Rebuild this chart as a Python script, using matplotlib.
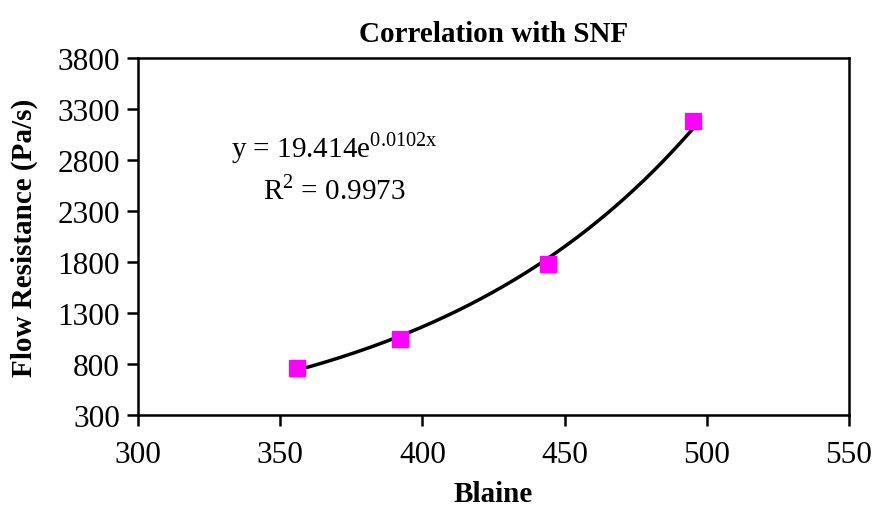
import numpy as np
import matplotlib
matplotlib.use('Agg')
import matplotlib.pyplot as plt

plt.rcParams['font.family'] = ['Liberation Serif', 'DejaVu Serif']
plt.rcParams['mathtext.fontset'] = 'custom'
plt.rcParams['mathtext.rm'] = 'Liberation Serif'

# data
blaine = np.array([356, 392, 444, 495])
flow_res = np.array([760, 1050, 1780, 3180])

xticks = [300, 350, 400, 450, 500, 550]
yticks = [300, 800, 1300, 1800, 2300, 2800, 3300, 3800]

fig = plt.figure(figsize=(8.72, 5.10), dpi=100)
ax = fig.add_axes([0.1583, 0.1843, 0.8153, 0.7000])

xx = np.linspace(blaine.min(), blaine.max(), 200)
# exponential fit through the points (the chart's trendline)
b_fit, ln_a = np.polyfit(blaine, np.log(flow_res), 1)
ax.plot(xx, np.exp(ln_a) * np.exp(b_fit * xx), color='black', lw=2.5, zorder=2)
ax.plot(blaine, flow_res, 's', color='#FF00FF', markersize=11.5, zorder=3)

ax.set_xlim(300, 550)
ax.set_ylim(300, 3800)
ax.set_xticks(xticks)
ax.set_yticks(yticks)
ax.tick_params(axis='both', direction='out', length=8, width=1.8, labelsize=22.5)
ax.tick_params(axis='x', pad=10)
ax.tick_params(axis='y', pad=5)
for s in ax.spines.values():
    s.set_linewidth(1.8)

ax.text(369, 2930, r'y = 19.414e$^{\mathrm{0.0102x}}$', fontsize=21, ha='center', va='center')
ax.text(369, 2515, r'R$^{\mathrm{2}}$ = 0.9973', fontsize=21, ha='center', va='center')

ax.set_title('Correlation with SNF', fontsize=21, fontweight='bold', pad=12)
ax.set_xlabel('Blaine', fontsize=21, fontweight='bold', labelpad=8)
ax.set_ylabel('Flow Resistance (Pa/s)', fontsize=21, fontweight='bold', labelpad=14)

fig.savefig('out.png', dpi=100)
